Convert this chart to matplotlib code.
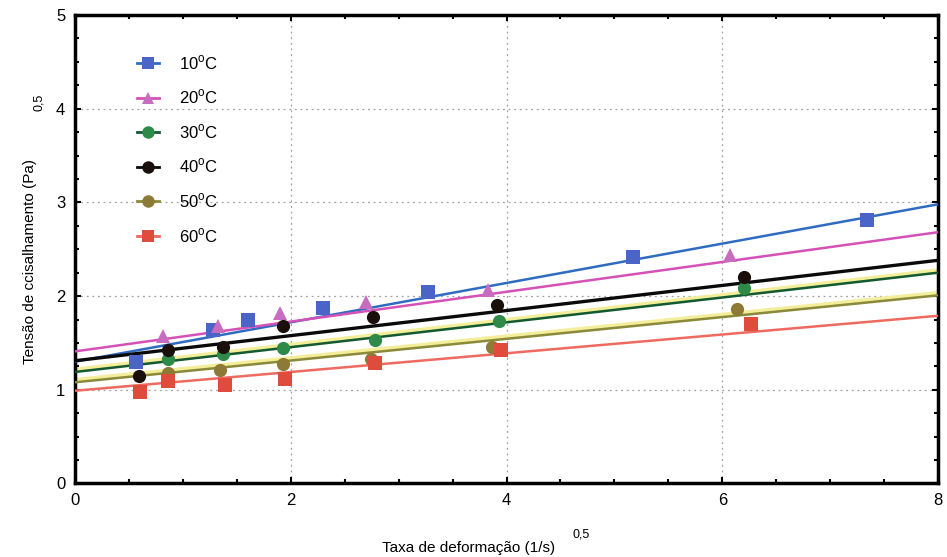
import numpy as np
import matplotlib
matplotlib.use("Agg")
import matplotlib.pyplot as plt
from matplotlib.lines import Line2D
from matplotlib.ticker import MultipleLocator

plt.rcParams['font.family'] = ['Liberation Sans', 'DejaVu Sans']
plt.rcParams['mathtext.fontset'] = 'custom'
plt.rcParams['mathtext.rm'] = 'Liberation Sans'

# Measured points: shear-rate^0.5 (x) vs shear-stress^0.5 (y)
labels = [r'10$^\mathrm{o}$C', r'20$^\mathrm{o}$C', r'30$^\mathrm{o}$C',
          r'40$^\mathrm{o}$C', r'50$^\mathrm{o}$C', r'60$^\mathrm{o}$C']

x10 = [0.57, 1.28, 1.60, 2.30, 3.27, 5.17, 7.34]
y10 = [1.30, 1.64, 1.74, 1.87, 2.04, 2.42, 2.81]

x20 = [0.82, 1.33, 1.90, 2.70, 3.83, 6.07]
y20 = [1.57, 1.68, 1.82, 1.94, 2.06, 2.44]

x30 = [0.86, 1.37, 1.93, 2.78, 3.93, 6.20]
y30 = [1.33, 1.38, 1.45, 1.53, 1.73, 2.09]

x40 = [0.59, 0.86, 1.37, 1.93, 2.76, 3.91, 6.20]
y40 = [1.15, 1.42, 1.46, 1.68, 1.78, 1.91, 2.20]

x50 = [0.86, 1.34, 1.93, 2.74, 3.87, 6.14]
y50 = [1.18, 1.21, 1.28, 1.33, 1.46, 1.86]

x60 = [0.60, 0.86, 1.39, 1.95, 2.78, 3.95, 6.27]
y60 = [0.98, 1.09, 1.05, 1.11, 1.29, 1.43, 1.70]

# Linear fits (intercept, slope) for each temperature
intercepts = [1.30, 1.41, 1.19, 1.31, 1.08, 0.99]
slopes = [0.210, 0.159, 0.1325, 0.134, 0.116, 0.100]

xs = [x10, x20, x30, x40, x50, x60]
ys = [y10, y20, y30, y40, y50, y60]

marker_colors = ['#4a64c8', '#c86cc0', '#2e8a48', '#1a0f0a', '#8c7a36', '#e04c3c']
line_colors = ['#2f6cc0', '#d452b8', '#145a30', '#0a0a0a', '#8a8a3a', '#ee6a60']
halo_colors = [None, None, '#f2ee9a', None, '#f4ee9a', None]
markers = ['s', '^', 'o', 'o', 'o', 's']

fig = plt.figure(figsize=(9.47, 5.57), dpi=100)
ax = fig.add_axes([0.0792, 0.132, 0.9113, 0.841])

xfit = np.array([0.0, 8.0])
for b, m, lc, hc in zip(intercepts, slopes, line_colors, halo_colors):
    yfit = b + m * xfit
    if hc is not None:
        ax.plot(xfit, yfit + 0.025, color=hc, lw=3.0, zorder=2, solid_capstyle='butt')
    lw = 2.4 if lc == '#0a0a0a' else 1.8
    ax.plot(xfit, yfit, color=lc, lw=lw, zorder=3, solid_capstyle='butt')

for x, y, mc, mk in zip(xs, ys, marker_colors, markers):
    ax.plot(x, y, linestyle='none', marker=mk, markersize=9.5,
            color=mc, markeredgewidth=0, zorder=4)

ax.set_xlim(0, 8)
ax.set_ylim(0, 5)
ax.xaxis.set_major_locator(MultipleLocator(2))
ax.xaxis.set_minor_locator(MultipleLocator(0.5))
ax.yaxis.set_major_locator(MultipleLocator(1))
ax.yaxis.set_minor_locator(MultipleLocator(0.25))
ax.tick_params(which='both', direction='in', top=True, right=True,
               width=1.5, color='black')
ax.tick_params(which='major', length=4, labelsize=12, pad=7)
ax.tick_params(which='minor', length=3)

ax.grid(True, which='major', linestyle=(0, (1.5, 3)), color='#a0a0a0', lw=0.9)
for s in ax.spines.values():
    s.set_linewidth(2.5)
    s.set_color('black')

handles = []
for lc, mc, mk, lab in zip(line_colors, marker_colors, markers, labels):
    handles.append(Line2D([0], [0], color=lc, lw=2, marker=mk, markersize=9,
                          markerfacecolor=mc, markeredgewidth=0, label=lab))
leg = ax.legend(handles=handles, loc='upper left', bbox_to_anchor=(0.055, 0.95),
                frameon=False, fontsize=12, handlelength=1.3,
                labelspacing=0.95, handletextpad=1.2)

# Axis titles with the 0,5 exponent written beside them
fig.text(0.495, 0.016, 'Taxa de deformação (1/s)', fontsize=11,
         ha='center', va='center')
fig.text(0.605, 0.04, '0,5', fontsize=9, ha='left', va='center')
fig.text(0.032, 0.53, 'Tensão de ccisalhamento (Pa)', fontsize=11,
         rotation=90, ha='center', va='center')
fig.text(0.041, 0.817, '0,5', fontsize=9, rotation=90, ha='center', va='center')

fig.savefig('out.png', dpi=100, facecolor='white')
